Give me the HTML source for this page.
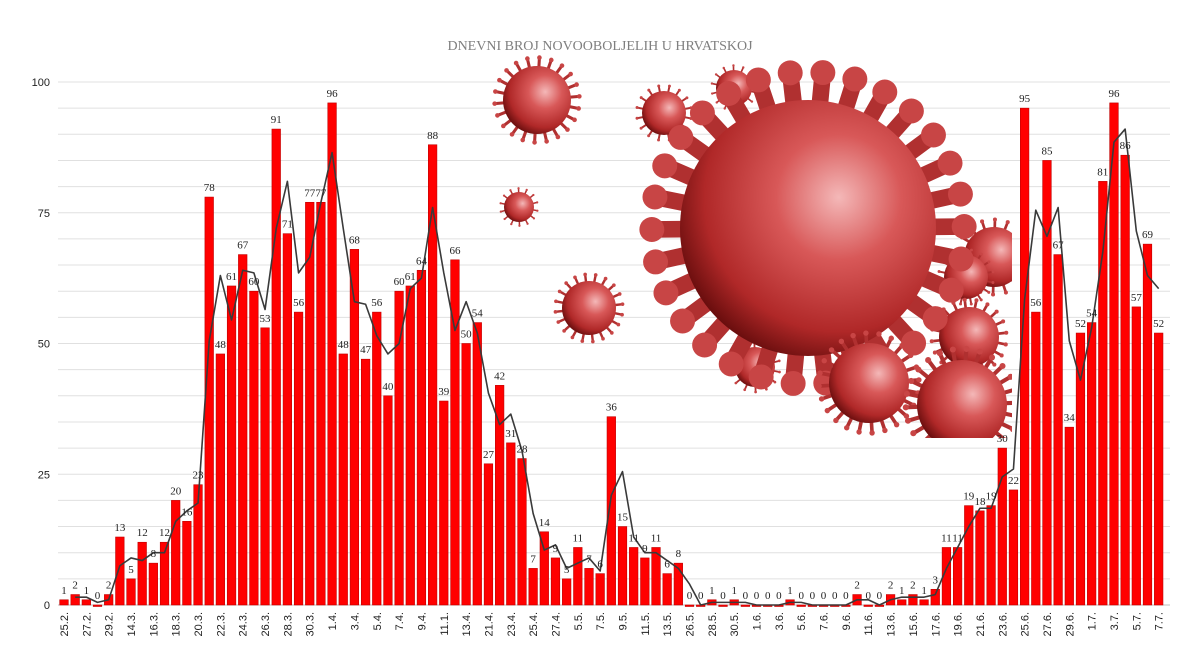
<!DOCTYPE html>
<html><head><meta charset="utf-8"><style>
body{margin:0;background:#fff;}
svg{display:block;}
</style></head><body>
<svg id="chart" width="1200" height="669" xmlns="http://www.w3.org/2000/svg">
<defs>
<radialGradient id="vg" cx="0.62" cy="0.38" r="0.7">
<stop offset="0" stop-color="#f4b8b8"/><stop offset="0.35" stop-color="#d85858"/><stop offset="0.75" stop-color="#b02828"/><stop offset="1" stop-color="#5a0808"/>
</radialGradient>
<clipPath id="imgclip"><rect x="470" y="45" width="542" height="393"/></clipPath>
</defs>
<text x="600" y="50" text-anchor="middle" font-family="Liberation Serif, serif" font-size="14" fill="#7f7f7f">DNEVNI BROJ NOVOOBOLJELIH U HRVATSKOJ</text>
<g id="grid"></g><g id="bars"></g><g id="line"></g><g id="virus" clip-path="url(#imgclip)"></g><g id="labels"></g>
</svg>
<script>
const categories=["25.2.","26.2.","27.2.","28.2.","29.2.","13.3.","14.3.","15.3.","16.3.","17.3.","18.3.","19.3.","20.3.","21.3.","22.3.","23.3.","24.3.","25.3.","26.3.","27.3.","28.3.","29.3.","30.3.","31.3.","1.4.","2.4.","3.4.","4.4.","5.4.","6.4.","7.4.","8.4.","9.4.","10.4.","11.1.","12.4.","13.4.","20.4.","21.4.","22.4.","23.4.","24.4.","25.4.","26.4.","27.4.","4.5.","5.5.","6.5.","7.5.","8.5.","9.5.","10.5.","11.5.","12.5.","13.5.","14.5.","26.5.","27.5.","28.5.","29.5.","30.5.","31.5.","1.6.","2.6.","3.6.","4.6.","5.6.","6.6.","7.6.","8.6.","9.6.","10.6.","11.6.","12.6.","13.6.","14.6.","15.6.","16.6.","17.6.","18.6.","19.6.","20.6.","21.6.","22.6.","23.6.","24.6.","25.6.","26.6.","27.6.","28.6.","29.6.","30.6.","1.7.","2.7.","3.7.","4.7.","5.7.","6.7.","7.7."];
const values=[1,2,1,0,2,13,5,12,8,12,20,16,23,78,48,61,67,60,53,91,71,56,77,77,96,48,68,47,56,40,60,61,64,88,39,66,50,54,27,42,31,28,7,14,9,5,11,7,6,36,15,11,9,11,6,8,0,0,1,0,1,0,0,0,0,1,0,0,0,0,0,2,0,0,2,1,2,1,3,11,11,19,18,19,30,22,95,56,85,67,34,52,54,81,96,86,57,69,52];
const yTicks=[0,25,50,75,100];
const NS="http://www.w3.org/2000/svg";
function mk(t,a,p){const e=document.createElementNS(NS,t);for(const k in a)e.setAttribute(k,a[k]);p.appendChild(e);return e;}
const xS=i=>64+i*11.17;
const yS=v=>605-v*5.23;
const grid=document.getElementById('grid'),bars=document.getElementById('bars'),lab=document.getElementById('labels'),lineG=document.getElementById('line');
for(let v=0;v<=100;v+=5){
  const l=mk('line',{x1:58,x2:1170,y1:yS(v),y2:yS(v),stroke:v===0?'#bfbfbf':'#e0e0e0','stroke-width':1},grid);
  
  
}
yTicks.forEach(v=>{
  const t=mk('text',{x:50,y:yS(v)+4,'text-anchor':'end','font-family':'Liberation Sans, sans-serif','font-size':11,fill:'#222'},grid);
  t.textContent=v;
  
  
});
values.forEach((v,i)=>{
  const x=xS(i);
  const r=mk('rect',{x:x-4.3,y:yS(v),width:8.6,height:Math.max(v*5.23,1.5),fill:'#ff0000',stroke:'#c00000','stroke-width':0.6},bars);
  
  
  const t=mk('text',{x:x,y:yS(v)-6,'text-anchor':'middle','font-family':'Liberation Serif, serif','font-size':11,fill:'#222'},lab);
  t.textContent=v;
  
  
  if(i%2===0){
    const xl=mk('text',{transform:`translate(${x+4},612) rotate(-90)`,'text-anchor':'end','font-family':'Liberation Sans, sans-serif','font-size':11,fill:'#222'},lab);
    xl.textContent=categories[i];
    
    
  }
});
let pts=[];
for(let i=1;i<values.length;i++)pts.push(xS(i)+','+yS((values[i-1]+values[i])/2));
const pl=mk('polyline',{points:pts.join(' '),fill:'none',stroke:'#3a3a3a','stroke-width':1.6,'stroke-linejoin':'round'},lineG);


const vg=document.getElementById('virus');
function virus(cx,cy,r,n,name,thick){
  const g=mk('g',{},vg);
  
  
  const w=thick?r*0.13:Math.max(r*0.09,1.5);
  for(let k=0;k<n;k++){
    const a=k/n*Math.PI*2+0.2;
    const len=thick?1.22:1.25;
    const x1=cx+Math.cos(a)*r*0.9,y1=cy+Math.sin(a)*r*0.9,x2=cx+Math.cos(a)*r*len,y2=cy+Math.sin(a)*r*len;
    mk('line',{x1:x1,y1:y1,x2:x2,y2:y2,stroke:'#b03030','stroke-width':w,'stroke-linecap':'round'},g);
    mk('circle',{cx:x2,cy:y2,r:w*0.75,fill:'#c84545'},g);
  }
  mk('circle',{cx:cx,cy:cy,r:r,fill:'url(#vg)'},g);
}
virus(537,100,34,22,'virus-small-1');
virus(734,88,18,14,'virus-small-3');
virus(664,113,22,16,'virus-small-2');
virus(519,207,15,14,'virus-small-4');
virus(589,308,27,20,'virus-small-5');
virus(994,257,30,18,'virus-right-1');
virus(966,277,22,16,'virus-right-2');
virus(969,337,30,20,'virus-right-3');
virus(755,367,20,14,'virus-bottom-1');
virus(808,228,128,30,'virus-large',true);
virus(869,383,40,24,'virus-bottom-2');
virus(962,405,45,26,'virus-bottom-3');
</script>
</body></html>
